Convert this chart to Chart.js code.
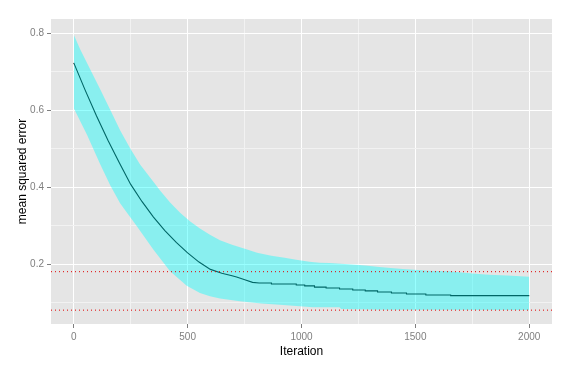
<!DOCTYPE html>
<html>
<head>
<meta charset="utf-8">
<script src="https://cdn.jsdelivr.net/npm/chart.js@4.4.1/dist/chart.umd.min.js"></script>
<style>
  body { margin: 0; background: #fff; }
  #wrap { width: 572px; height: 370px; }
</style>
</head>
<body>
<div id="wrap"><canvas id="mseChart"></canvas></div>
<script>
  // mean squared error (step line)
  const mseIter = [0, 50, 100, 150, 200, 250, 300, 350, 400, 450, 500, 550, 600, 650, 695, 715, 751, 785, 814,
    868, 868, 977, 977, 1014, 1014, 1057, 1057, 1108, 1108, 1167, 1167, 1225, 1225, 1280, 1280, 1334, 1334,
    1395, 1395, 1461, 1461, 1546, 1546, 1655, 1655, 2000];
  const mseVal = [0.723, 0.652, 0.585, 0.522, 0.463, 0.407, 0.362, 0.322, 0.287, 0.256, 0.229, 0.205, 0.186, 0.176, 0.1696, 0.166, 0.159, 0.1522, 0.1506,
    0.1506, 0.148, 0.148, 0.1455, 0.1455, 0.143, 0.143, 0.140, 0.140, 0.1377, 0.1377, 0.135, 0.135, 0.1325, 0.1325, 0.130, 0.130, 0.1273,
    0.1273, 0.1247, 0.1247, 0.122, 0.122, 0.1195, 0.1195, 0.1177, 0.1177];

  // ribbon bounds
  const upperIter = [0, 29, 73, 117, 160, 204, 248, 292, 336, 379, 423, 467, 510, 554, 598, 642, 695, 751, 805, 868, 926, 977,
    1035, 1079, 1123, 1240, 1291, 1342, 1393, 1444, 1495, 1560, 1648, 1750, 1823, 1903, 2000];
  const upperVal = [0.796, 0.757, 0.705, 0.653, 0.601, 0.547, 0.500, 0.458, 0.424, 0.391, 0.360, 0.333, 0.311, 0.292, 0.276, 0.262, 0.250, 0.2397, 0.2294, 0.2216, 0.2164, 0.211,
    0.206, 0.2034, 0.2026, 0.198, 0.1955, 0.192, 0.1896, 0.187, 0.185, 0.1826, 0.181, 0.175, 0.172, 0.170, 0.167];
  const lowerIter = [0, 58, 117, 160, 204, 277, 350, 423, 496, 554, 598, 642, 729, 824, 904, 992, 1050, 1167, 1174, 1356, 2000];
  const lowerVal = [0.605, 0.536, 0.458, 0.405, 0.357, 0.298, 0.237, 0.181, 0.1436, 0.1247, 0.116, 0.110, 0.103, 0.097, 0.0943, 0.090, 0.0873, 0.0873, 0.0831, 0.0813, 0.0805];

  // reference lines
  const refLines = [0.18, 0.08];

  // axis breaks
  const xMajor = [0, 500, 1000, 1500, 2000];
  const xMinor = [250, 750, 1250, 1750];
  const yMajor = [0.2, 0.4, 0.6, 0.8];
  const yMinor = [0.1, 0.3, 0.5, 0.7];

  const xMin = -100, xMax = 2100;
  const yMin = 0.044, yMax = 0.837;

  const pts = (xs, ys) => xs.map((x, i) => ({ x: x, y: ys[i] }));
  const isMajor = (list, v) => list.some(m => Math.abs(m - v) < 1e-9);

  const panelBg = {
    id: "panelBg",
    beforeDraw(chart) {
      const { ctx, chartArea: a } = chart;
      ctx.save();
      ctx.fillStyle = "#E5E5E5";
      ctx.fillRect(a.left, a.top, a.right - a.left, a.bottom - a.top);
      ctx.restore();
    }
  };

  const refSets = refLines.map(v => ({
    data: [{ x: xMin, y: v }, { x: xMax, y: v }],
    borderColor: "#e00000",
    borderWidth: 1,
    borderDash: [1, 3],
    pointRadius: 0,
    fill: false
  }));

  const majorOf = ctx => (ctx.scale.axis === "x" ? xMajor : yMajor);
  const gridColor = ctx => (ctx.tick && isMajor(majorOf(ctx), ctx.tick.value) ? "#FFFFFF" : "#F2F2F2");
  const tickColor = ctx => (ctx.tick && isMajor(majorOf(ctx), ctx.tick.value) ? "#7F7F7F" : "rgba(0,0,0,0)");

  new Chart(document.getElementById("mseChart").getContext("2d"), {
    type: "line",
    data: {
      datasets: [
        ...refSets,
        {
          data: pts(upperIter, upperVal),
          borderWidth: 0,
          borderColor: "rgba(0,0,0,0)",
          backgroundColor: "rgba(0,255,255,0.4)",
          pointRadius: 0,
          fill: "+1"
        },
        {
          data: pts(lowerIter, lowerVal),
          borderWidth: 0,
          borderColor: "rgba(0,0,0,0)",
          pointRadius: 0,
          fill: false
        },
        {
          data: pts(mseIter, mseVal),
          borderColor: "#000000",
          borderWidth: 1.1,
          pointRadius: 0,
          fill: false
        }
      ]
    },
    options: {
      responsive: true,
      maintainAspectRatio: false,
      animation: false,
      layout: { padding: { top: 19, right: 20, bottom: 0, left: 0 } },
      plugins: { legend: { display: false }, tooltip: { enabled: false } },
      scales: {
        x: {
          type: "linear",
          min: xMin,
          max: xMax,
          afterFit: s => { s.height = 46; },
          afterBuildTicks: s => {
            s.ticks = [...xMajor, ...xMinor].sort((a, b) => a - b).map(v => ({ value: v }));
          },
          border: { display: false },
          grid: { color: gridColor, tickColor: tickColor, tickLength: 4, lineWidth: 1 },
          ticks: {
            autoSkip: false,
            maxRotation: 0,
            padding: 3,
            color: "#7F7F7F",
            font: { family: "Liberation Sans", size: 10 },
            callback: v => (isMajor(xMajor, v) ? String(v) : "")
          },
          title: {
            display: true,
            text: "Iteration",
            color: "#000000",
            font: { family: "Liberation Sans", size: 12 },
            padding: { top: 0, bottom: 11 }
          }
        },
        y: {
          min: yMin,
          max: yMax,
          afterFit: s => { s.width = 51; },
          afterBuildTicks: s => {
            s.ticks = [...yMajor, ...yMinor].sort((a, b) => a - b).map(v => ({ value: v }));
          },
          border: { display: false },
          grid: { color: gridColor, tickColor: tickColor, tickLength: 4, lineWidth: 1 },
          ticks: {
            autoSkip: false,
            padding: 3,
            color: "#7F7F7F",
            font: { family: "Liberation Sans", size: 10 },
            callback: v => (isMajor(yMajor, v) ? v.toFixed(1) : "")
          },
          title: {
            display: true,
            text: "mean squared error",
            color: "#000000",
            font: { family: "Liberation Sans", size: 12 },
            padding: { top: 15, bottom: 0 }
          }
        }
      }
    },
    plugins: [panelBg]
  });
</script>
</body>
</html>
